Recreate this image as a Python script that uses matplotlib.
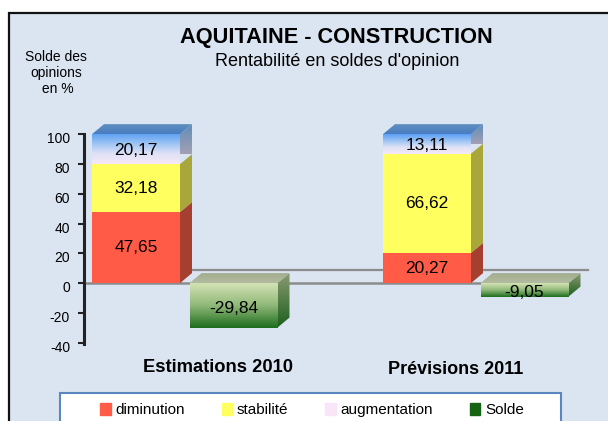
import matplotlib
matplotlib.use('Agg')
import matplotlib.pyplot as plt
import numpy as np
from matplotlib.colors import LinearSegmentedColormap
from matplotlib.patches import Patch, Polygon, Rectangle
from matplotlib.transforms import ScaledTranslation

plt.rcParams['font.family'] = ['Liberation Sans', 'DejaVu Sans']
plt.rcParams['axes.unicode_minus'] = False

categories = ['Estimations 2010', 'Prévisions 2011']
diminution = [47.65, 20.27]
stabilite = [32.18, 66.62]
augmentation = [20.17, 13.11]
solde = [-29.84, -9.05]
y_ticks = [-40, -20, 0, 20, 40, 60, 80, 100]

W, H = 608, 421
PX_X = 291.0    # pixels per category
PX_Y = 1.49     # pixels per percent
DX = 12 / PX_X
DY = 10 / PX_Y
BAR_W = 88 / PX_X
SOLDE_OFF = 97.5 / PX_X


def label(v):
    return f'{v:.2f}'.replace('.', ',')


def gradient(ax, x0, x1, y0, y1, clip, colors, z):
    cmap = LinearSegmentedColormap.from_list('g', colors)
    im = ax.imshow(np.linspace(0, 1, 64).reshape(-1, 1), cmap=cmap, aspect='auto',
                   extent=(x0, x1, y0, y1), origin='upper', zorder=z)
    im.set_clip_box(ax.figure.bbox)
    im.set_clip_path(clip)


def side(ax, x, y0, y1, color, z):
    p = Polygon([(x, y0), (x + DX, y0 + DY), (x + DX, y1 + DY), (x, y1)],
                facecolor=color, edgecolor='none', zorder=z, clip_on=False)
    ax.add_patch(p)
    return p


def top_face(ax, x0, x1, y, z):
    p = Polygon([(x0, y), (x1, y), (x1 + DX, y + DY), (x0 + DX, y + DY)],
                facecolor='none', edgecolor='none', zorder=z, clip_on=False)
    ax.add_patch(p)
    return p


fig = plt.figure(figsize=(W / 100, H / 100), dpi=100, facecolor='white')

# fond et cadre du graphique
fig.add_artist(Rectangle((9 / W, -0.1), 1.1, 0.1 + (H - 13) / H, transform=fig.transFigure,
                         facecolor='#dbe5f1', edgecolor='#111111', linewidth=1.6, zorder=-1))

ax = fig.add_axes([84 / W, (H - 343.6) / H, (576 - 84) / W, (343.6 - 134) / H])
ax.patch.set_alpha(0)
xlim = ((84 - 136) / PX_X, (576 - 136) / PX_X)

for s in ['top', 'right', 'bottom']:
    ax.spines[s].set_visible(False)
ax.spines['left'].set_linewidth(2.2)
ax.spines['left'].set_color('#222222')
ax.set_xticks([])
ax.set_yticks(y_ticks)
ax.tick_params(axis='y', length=4, width=1.5, color='#222222', labelsize=10, pad=6)
for t in ax.get_yticklabels():
    t.set_transform(t.get_transform() + ScaledTranslation(0, -2.5 / 72, fig.dpi_scale_trans))

# lignes du zero (avant / arriere)
ax.plot(xlim, [0, 0], color='#8c8c8c', lw=1.8, zorder=1, clip_on=False)
ax.plot([(180 - 136) / PX_X, (588 - 136) / PX_X], [DY * 1.35, DY * 1.35], color='#8c8c8c', lw=1.6,
        zorder=1, clip_on=False)

x = np.arange(len(categories))
dim = np.array(diminution)
sta = np.array(stabilite)
aug = np.array(augmentation)
sol = np.array(solde)

ax.bar(x, dim, BAR_W, color='#ff5b47', zorder=4)
ax.bar(x, sta, BAR_W, bottom=dim, color='#ffff5f', zorder=4)
aug_bars = ax.bar(x, aug, BAR_W, bottom=dim + sta, color='none', zorder=4)
sol_bars = ax.bar(x + SOLDE_OFF, sol, BAR_W, color='none', zorder=4)

for i in range(len(categories)):
    x0, x1 = x[i] - BAR_W / 2, x[i] + BAR_W / 2
    top = dim[i] + sta[i] + aug[i]
    side(ax, x1, 0, dim[i], '#a53f30', 3)
    side(ax, x1, dim[i], dim[i] + sta[i], '#a9a63c', 3)
    p = side(ax, x1, dim[i] + sta[i], top, 'none', 3)
    gradient(ax, x1, x1 + DX, dim[i] + sta[i] + DY, top + DY, p, ['#5f8db8', '#a3a0b4'], 3)
    p = top_face(ax, x0, x1, top, 3)
    gradient(ax, x0, x1 + DX, top, top + DY, p, ['#5e8fc0', '#4a7cc0'], 3)
    gradient(ax, x0, x1, dim[i] + sta[i], top, aug_bars[i], ['#5aa0f5', '#9cc3f3', '#dfe2f6', '#f6e8f8'], 4)

    sx0, sx1 = x[i] + SOLDE_OFF - BAR_W / 2, x[i] + SOLDE_OFF + BAR_W / 2
    p = side(ax, sx1, sol[i], 0, 'none', 3)
    gradient(ax, sx1, sx1 + DX, sol[i], DY, p, ['#8a9a72', '#1c5f1c'], 3)
    p = top_face(ax, sx0, sx1, 0, 3)
    gradient(ax, sx0, sx1 + DX, 0, DY, p, ['#a3ad8e', '#b2bba0'], 3)
    gradient(ax, sx0, sx1, sol[i], 0, sol_bars[i], ['#d3e2b4', '#8fb878', '#1e6e1e'], 4)

    ax.text(x[i], dim[i] / 2, label(dim[i]), ha='center', va='center', fontsize=12.5, zorder=6)
    ax.text(x[i], dim[i] + sta[i] / 2, label(sta[i]), ha='center', va='center', fontsize=12.5, zorder=6)
    ax.text(x[i], dim[i] + sta[i] + aug[i] / 2 - 1, label(aug[i]), ha='center', va='center', fontsize=12.5, zorder=6)
    ax.text(x[i] + SOLDE_OFF, sol[i] / 2 - 2, label(sol[i]), ha='center', va='center', fontsize=12.5, zorder=6)

ax.set_xlim(xlim)
ax.set_ylim(-40.6, 100.1)

ax.text(x[0] + 82 / PX_X, -56.8, categories[0], ha='center', va='center',
        fontsize=13.2, fontweight='bold')
ax.text(x[1] + 29 / PX_X, -58, categories[1], ha='center', va='center',
        fontsize=13, fontweight='bold')

fig.text(336 / W, 1 - 37 / H, 'AQUITAINE - CONSTRUCTION', ha='center', va='center',
         fontsize=15.7, fontweight='bold')
fig.text(337 / W, 1 - 61 / H, "Rentabilité en soldes d'opinion", ha='center', va='center', fontsize=13)
fig.text(56 / W, 1 - 73 / H, 'Solde des\nopinions\n en %', ha='center', va='center', fontsize=10,
         linespacing=1.15)

# cadre de la legende, coupe par le bas de l'image
fig.add_artist(Rectangle((60 / W, -0.05), 501 / W, 0.05 + (H - 393) / H, transform=fig.transFigure,
                         facecolor='white', edgecolor='#5b87c0', linewidth=1.5, zorder=2))
handles = [Patch(color='#ff5b47'), Patch(color='#ffff5f'), Patch(color='#f8e6f8'), Patch(color='#146414')]
leg = fig.legend(handles, ['diminution', 'stabilité', 'augmentation', 'Solde'], ncol=4,
                 loc='center', bbox_to_anchor=(312 / W, 1 - 410 / H), fontsize=11, frameon=False,
                 handlelength=0.7, handleheight=0.8, handletextpad=0.3, columnspacing=2.4,
                 borderaxespad=0, borderpad=0)
leg.set_zorder(3)

plt.savefig('out.png', dpi=100)
